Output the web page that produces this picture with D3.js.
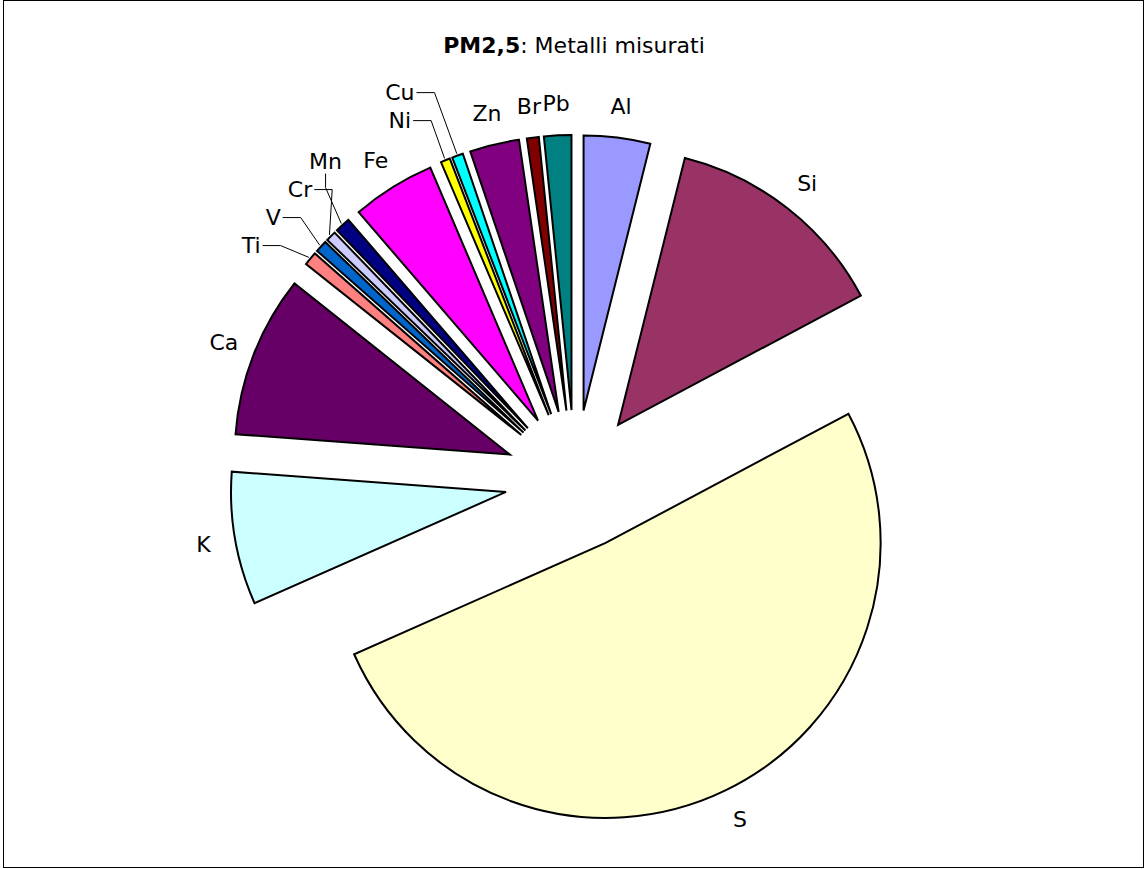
<!DOCTYPE html>
<html>
<head>
<meta charset="utf-8">
<script src="https://cdn.jsdelivr.net/npm/d3@7"></script>
<style>
  body { margin: 0; background: #fff; }
  .label { font-family: "DejaVu Sans", Verdana, sans-serif; font-size: 22px; fill: #000; }
  .title { font-family: "DejaVu Sans", Verdana, sans-serif; font-size: 22px; fill: #000; }
</style>
</head>
<body>
<svg class="chart"></svg>
<script>

// metals measured in PM2.5 (share of total, %)
var elements = ["Al", "Si", "S", "K", "Ca", "Ti", "V", "Cr", "Mn", "Fe", "Ni", "Cu", "Zn", "Br", "Pb"];
var shares   = [3.9, 13.3, 51.1, 7.8, 9.5, 0.8, 0.7, 0.6, 0.9, 4.9, 0.55, 0.65, 2.9, 0.7, 1.6];
var colours  = ["#9999ff", "#993366", "#ffffcc", "#ccffff", "#660066", "#ff8080", "#0066cc",
                "#ccccff", "#000080", "#ff00ff", "#ffff00", "#00ffff", "#800080", "#800000", "#008080"];

var width = 1145,
    height = 869,
    cx = 575, cy = 480,
    radius = 275,
    explode = 70,
    labelDist = 307,
    crowdDist = 330,
    labelGap = 28;

var data = elements.map(function(e, i) { return {name: e, value: shares[i], colour: colours[i]}; });

var svg = d3.select(".chart")
    .attr("width", width)
    .attr("height", height);

// chart frame
svg.append("rect")
    .attr("x", 3.5).attr("y", 0.5)
    .attr("width", 1140).attr("height", 867)
    .attr("fill", "none")
    .attr("stroke", "#000")
    .attr("stroke-width", 1);

var title = svg.append("text")
    .attr("class", "title")
    .attr("x", 574)
    .attr("y", 53)
    .attr("text-anchor", "middle");
title.append("tspan").style("font-weight", "bold").text("PM2,5");
title.append("tspan").text(": Metalli misurati");

var pie = d3.pie()
    .sort(null)
    .value(function(d) { return d.value; });

var arc = d3.arc()
    .innerRadius(0)
    .outerRadius(radius);

var arcs = pie(data);

// direction of each slice (0 = 12 o'clock, clockwise), exploded outward
arcs.forEach(function(a) {
  a.mid = (a.startAngle + a.endAngle) / 2;
  a.ux = Math.sin(a.mid);
  a.uy = -Math.cos(a.mid);
  a.ox = cx + explode * a.ux;
  a.oy = cy + explode * a.uy;
  a.small = a.data.value < 1;
});

// tiny slices next to other tiny slices form a cluster whose labels are spread out
var clusters = [], cur = [];
arcs.forEach(function(a) {
  if (a.small) cur.push(a);
  else { if (cur.length > 1) clusters.push(cur); cur = []; }
});
if (cur.length > 1) clusters.push(cur);

arcs.forEach(function(a) {
  a.x = a.ox + labelDist * a.ux;
  a.y = a.oy + labelDist * a.uy;
});

clusters.forEach(function(c) {
  c.forEach(function(a) {
    a.crowded = true;
    a.x0 = a.ox + crowdDist * a.ux;
    a.y0 = a.oy + crowdDist * a.uy;
  });
  var meanY = d3.mean(c, function(a) { return a.y0; });
  // evenly spaced around the mean, bottom label first
  var sorted = c.slice().sort(function(a, b) { return b.y0 - a.y0; });
  sorted.forEach(function(a, k) {
    a.y = meanY - (k - (sorted.length - 1) / 2) * labelGap;
    var dy = a.y - a.oy,
        dx = Math.sqrt(Math.max(0, crowdDist * crowdDist - dy * dy));
    a.x = a.ox - dx;
    // too far round the circle: stack in the column of the label below
    if (k > 0 && a.x > a.x0 + 30) a.x = sorted[k - 1].x;
    else a.x = Math.min(a.x, a.x0 + 20);
  });
});

var g = svg.append("g");

g.selectAll(".slice")
    .data(arcs)
  .enter().append("path")
    .attr("class", "slice")
    .attr("transform", function(a) { return "translate(" + a.ox + "," + a.oy + ")"; })
    .attr("d", arc)
    .attr("fill", function(a) { return a.data.colour; })
    .attr("stroke", "#000")
    .attr("stroke-width", 2)
    .attr("stroke-linejoin", "miter");

var labels = svg.selectAll(".label")
    .data(arcs)
  .enter().append("text")
    .attr("class", "label")
    .attr("text-anchor", "middle")
    .attr("dy", "0.35em")
    .attr("x", function(a) { return a.x; })
    .attr("y", function(a) { return a.y; })
    .text(function(a) { return a.data.name; });

labels.each(function(a) { a.tw = this.getComputedTextLength(); });

// leader lines from spread labels back to their slice
svg.selectAll(".leader")
    .data(arcs.filter(function(a) { return a.crowded; }))
  .enter().append("path")
    .attr("class", "leader")
    .attr("fill", "none")
    .attr("stroke", "#000")
    .attr("stroke-width", 1)
    .attr("d", function(a) {
      var ax = a.ox + (radius + 2) * a.ux,
          ay = a.oy + (radius + 2) * a.uy,
          dx = ax - a.x, dy = ay - a.y, sx, sy, ex, ey;
      if (Math.abs(dx) >= 0.5 * Math.abs(dy)) {
        sx = a.x + (dx > 0 ? 1 : -1) * (a.tw / 2 + 2);
        sy = a.y;
        ex = sx + (dx > 0 ? 1 : -1) * 18;
        ey = sy;
      } else {
        sx = a.x;
        sy = a.y + (dy > 0 ? 1 : -1) * 12;
        ex = sx;
        ey = sy + (dy > 0 ? 1 : -1) * 14;
      }
      return "M" + sx + "," + sy + "L" + ex + "," + ey + "L" + ax + "," + ay;
    });

</script>
</body>
</html>
